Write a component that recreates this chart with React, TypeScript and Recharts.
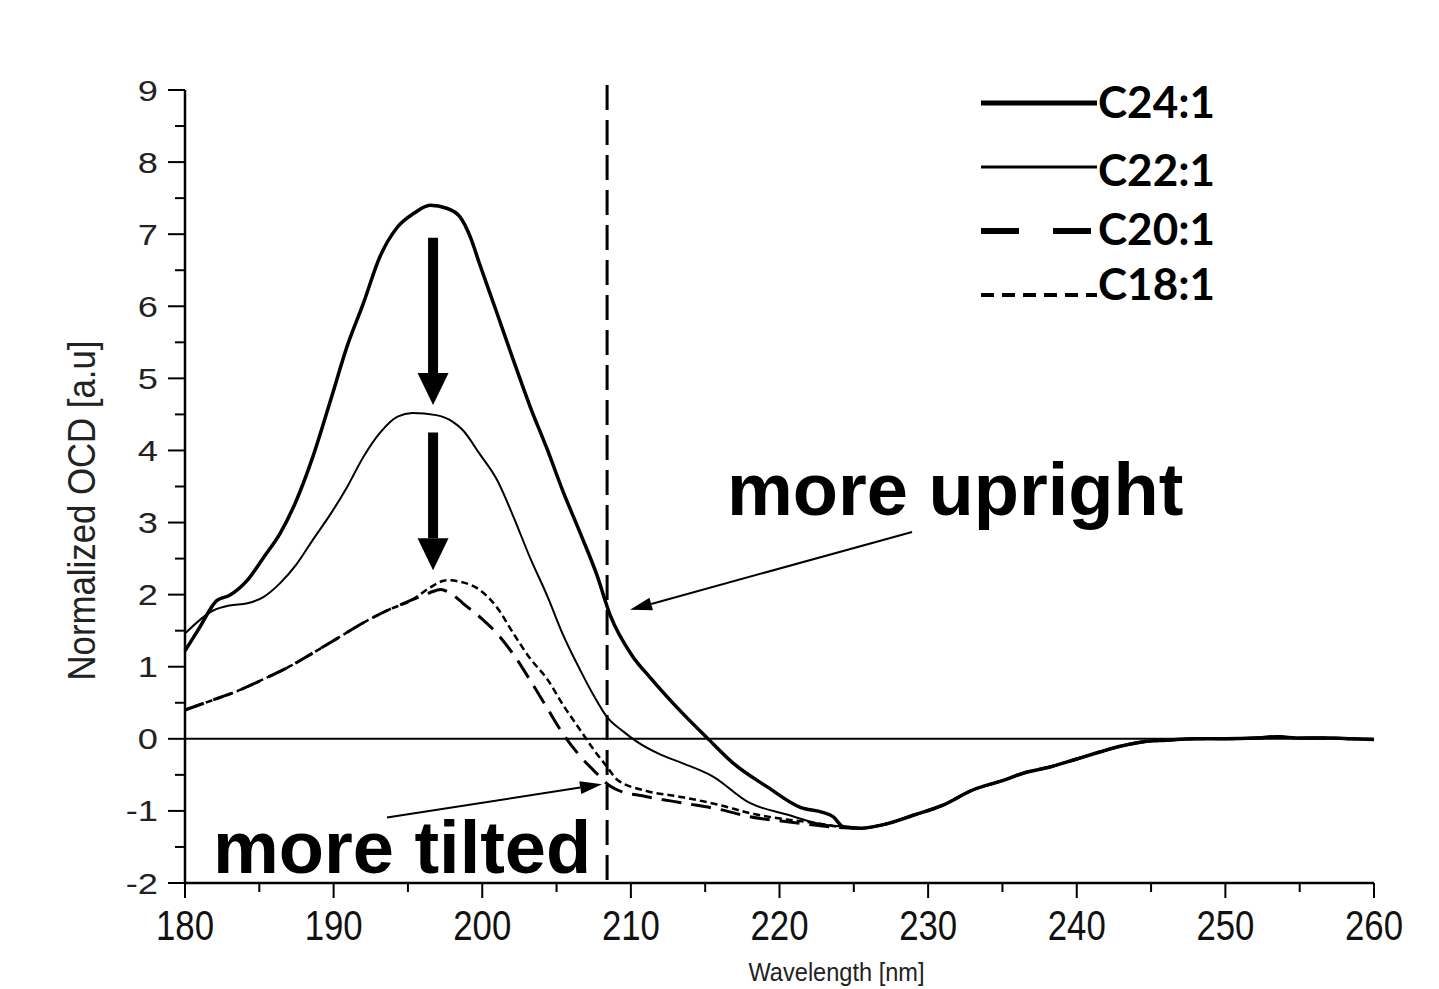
import { LineChart, Line, XAxis, YAxis, ReferenceLine, ReferenceDot, Legend } from 'recharts';

// wavelength [nm], normalized OCD [a.u]
const sharedTail: [number, number][] = [
  [225.5, -1.24], [227, -1.19], [229, -1.06], [231, -0.92], [233, -0.71], [235, -0.58],
  [236.5, -0.47], [238.2, -0.39], [240, -0.28], [241.6, -0.18], [243, -0.1], [244.5, -0.04],
  [246, -0.02], [248, 0], [250, 0], [252, 0.01], [253.5, 0.03], [255, 0.01], [257, 0.01],
  [258.5, 0], [260, -0.01],
];

const c24: [number, number][] = [
  [180, 1.22], [181, 1.55], [182.15, 1.92], [183, 1.99], [184.2, 2.2], [185.3, 2.52],
  [186.4, 2.85], [187.5, 3.31], [188.6, 3.91], [189.8, 4.7], [190.9, 5.44], [192, 6.04],
  [193.1, 6.68], [194.3, 7.1], [195.4, 7.29], [196.5, 7.4], [197.6, 7.36], [198.5, 7.24],
  [199.2, 6.96], [199.8, 6.6], [201, 5.9], [202.1, 5.25], [203.2, 4.62], [204.4, 4.0],
  [205.4, 3.45], [206.6, 2.85], [207.7, 2.28], [208.6, 1.72], [210.1, 1.15], [211.3, 0.85],
  [213.5, 0.35], [215.1, 0.02], [216.9, -0.34], [219.2, -0.67], [221.4, -0.95],
  [222.9, -1.02], [223.6, -1.08], [224.3, -1.22],
];

const c22: [number, number][] = [
  [180, 1.46], [181.9, 1.78], [183, 1.85], [184.2, 1.88], [185.3, 1.97], [186.4, 2.16],
  [187.5, 2.42], [188.6, 2.76], [189.8, 3.12], [190.9, 3.49], [192, 3.91], [193.1, 4.24],
  [194.3, 4.47], [195.3, 4.52], [196.9, 4.49], [198, 4.4], [198.7, 4.28], [199.8, 3.96],
  [201, 3.59], [202.1, 3.08], [203.2, 2.52], [204.4, 1.97], [205.4, 1.46], [206.6, 0.95],
  [207.5, 0.6], [208.4, 0.3], [209.5, 0.1], [210.4, -0.04], [212, -0.22], [213.5, -0.34],
  [215.5, -0.52], [218, -0.89], [220.5, -1.05], [222.5, -1.17], [224.3, -1.22],
];

const c20: [number, number][] = [
  [180, 0.4], [181.9, 0.54], [183.5, 0.66], [185.2, 0.82], [187, 1.0], [188.6, 1.19],
  [190.3, 1.4], [192, 1.61], [193.6, 1.78], [195.3, 1.93], [196.5, 2.03], [197.2, 2.07],
  [198, 2.0], [198.7, 1.88], [200, 1.66], [201, 1.46], [202.1, 1.17], [203.2, 0.82],
  [204.3, 0.45], [205.4, 0.08], [206.5, -0.22], [207.7, -0.48], [208.5, -0.64],
  [209.1, -0.71], [211, -0.8], [213.5, -0.89], [216, -0.98], [218, -1.08], [220.5, -1.15],
  [222.5, -1.2], [224, -1.23],
];

const c18: [number, number][] = [
  [180, 0.4], [181.9, 0.54], [183.5, 0.66], [185.2, 0.82], [187, 1.0], [188.6, 1.19],
  [190.3, 1.4], [192, 1.61], [193.6, 1.78], [195.3, 1.93], [196.5, 2.1], [197.6, 2.2],
  [198.7, 2.17], [199.8, 2.07], [201, 1.82], [202.1, 1.46], [203.2, 1.12], [204.4, 0.82],
  [205.5, 0.45], [206.6, 0.12], [207.5, -0.15], [208.4, -0.39], [209.1, -0.57],
  [211, -0.72], [213.5, -0.81], [216, -0.92], [218, -1.03], [220.5, -1.12],
  [222.5, -1.17], [224, -1.22],
];

const xTicks = [180, 185, 190, 195, 200, 205, 210, 215, 220, 225, 230, 235, 240, 245, 250, 255, 260];
const yTicks = [-2, -1.5, -1, -0.5, 0, 0.5, 1, 1.5, 2, 2.5, 3, 3.5, 4, 4.5, 5, 5.5, 6, 6.5, 7, 7.5, 8, 8.5, 9];

const cutoffWavelength = 208.4;

const toRows = (pts: [number, number][]) => pts.map(([w, v]) => ({ w, v }));

const series = [
  { name: 'C24:1', data: toRows([...c24, ...sharedTail]), width: 3.5, dash: undefined, legendWidth: 5, legendDash: undefined },
  { name: 'C22:1', data: toRows([...c22, ...sharedTail]), width: 2, dash: undefined, legendWidth: 3, legendDash: undefined },
  { name: 'C20:1', data: toRows([...c20, ...sharedTail]), width: 3, dash: '20 10', legendWidth: 6, legendDash: '38 34' },
  { name: 'C18:1', data: toRows([...c18, ...sharedTail]), width: 2.5, dash: '7 4', legendWidth: 4, legendDash: '13 8' },
];

const narrow = "'Liberation Sans', Arial, sans-serif";

function XTick({ x, y, payload }: any) {
  const major = payload.value % 10 === 0;
  return (
    <g>
      <line x1={x} x2={x} y1={y} y2={y + (major ? 15 : 9)} stroke="#000" strokeWidth={2} />
      {major && (
        <text
          x={x - 29}
          y={y + 57}
          textLength={58}
          lengthAdjust="spacingAndGlyphs"
          fontFamily={narrow}
          fontSize={42}
          fill="#111"
        >
          {payload.value}
        </text>
      )}
    </g>
  );
}

function YTick({ x, y, payload }: any) {
  const major = payload.value % 1 === 0;
  return (
    <g>
      <line x1={x - (major ? 17 : 10)} x2={x} y1={y} y2={y} stroke="#000" strokeWidth={2} />
      {major && (
        <text
          transform={`translate(${x - 27}, ${y + 10.5}) scale(1.25, 1)`}
          textAnchor="end"
          fontFamily={narrow}
          fontSize={29}
          fill="#222"
        >
          {payload.value}
        </text>
      )}
    </g>
  );
}

function arrowShape(thick: boolean) {
  return (p: any) => {
    const { x1, y1, x2, y2 } = p;
    const ang = Math.atan2(y2 - y1, x2 - x1);
    const len = thick ? 32 : 22;
    const half = thick ? 15.5 : 6.5;
    const bx = x2 - len * Math.cos(ang);
    const by = y2 - len * Math.sin(ang);
    const nx = -Math.sin(ang);
    const ny = Math.cos(ang);
    return (
      <g>
        <line x1={x1} y1={y1} x2={bx} y2={by} stroke="#000" strokeWidth={thick ? 10 : 2} />
        <polygon
          points={`${x2},${y2} ${bx + nx * half},${by + ny * half} ${bx - nx * half},${by - ny * half}`}
          fill="#000"
        />
      </g>
    );
  };
}

function noteText(label: string) {
  return (p: any) => (
    <text x={p.cx} y={p.cy} fontFamily="'Liberation Sans', Arial, sans-serif" fontWeight="bold" fontSize={74} fill="#000">
      {label}
    </text>
  );
}

function LegendBox() {
  const lineY = [33, 97, 161, 225];
  const textY = [48, 116, 175, 230];
  return (
    <svg width={270} height={250}>
      {series.map((s, i) => (
        <g key={s.name}>
          <line x1={6} x2={122} y1={lineY[i]} y2={lineY[i]} stroke="#000" strokeWidth={s.legendWidth} strokeDasharray={s.legendDash} />
          <text x={123} y={textY[i]} fontFamily="Lato, 'Open Sans', sans-serif" fontWeight={700} fontSize={44} fill="#000">
            {s.name}
          </text>
        </g>
      ))}
    </svg>
  );
}

export default function App() {
  return (
    <div style={{ position: 'absolute', left: 0, top: 0, background: '#fff' }}>
      <LineChart width={1439} height={989} margin={{ top: 90, right: 65, bottom: 0, left: 0 }}>
        <XAxis
          dataKey="w"
          type="number"
          domain={[180, 260]}
          ticks={xTicks}
          interval={0}
          height={106}
          tickSize={0}
          tickMargin={0}
          tickLine={false}
          tick={<XTick />}
          axisLine={{ stroke: '#000', strokeWidth: 2.5 }}
          label={{
            content: (p: any) => (
              <text
                x={p.viewBox.x + p.viewBox.width / 2 + 57 - 88}
                y={p.viewBox.y + 98}
                textLength={176}
                lengthAdjust="spacingAndGlyphs"
                fontFamily={narrow}
                fontSize={26}
                fill="#222"
              >
                Wavelength [nm]
              </text>
            ),
          }}
        />
        <YAxis
          type="number"
          domain={[-2, 9]}
          ticks={yTicks}
          interval={0}
          width={185}
          tickSize={0}
          tickMargin={0}
          tickLine={false}
          tick={<YTick />}
          axisLine={{ stroke: '#000', strokeWidth: 2.5 }}
          label={{
            content: (p: any) => {
              const cx = p.viewBox.x + 82;
              const cy = p.viewBox.y + p.viewBox.height / 2 + 24;
              return (
                <text
                  x={cx - 170}
                  y={cy}
                  transform={`rotate(-90 ${cx} ${cy})`}
                  dominantBaseline="central"
                  textLength={340}
                  lengthAdjust="spacingAndGlyphs"
                  fontFamily={narrow}
                  fontSize={38}
                  fill="#222"
                >
                  Normalized OCD [a.u]
                </text>
              );
            },
          }}
        />
        <ReferenceLine y={0} stroke="#000" strokeWidth={2} />
        <ReferenceLine
          segment={[{ x: cutoffWavelength, y: 9.07 }, { x: cutoffWavelength, y: -2 }]}
          ifOverflow="visible"
          stroke="#000"
          strokeWidth={3}
          strokeDasharray="25 10"
        />
        {series.map((s) => (
          <Line
            key={s.name}
            name={s.name}
            data={s.data}
            dataKey="v"
            type="monotone"
            stroke="#000"
            strokeWidth={s.width}
            strokeDasharray={s.dash}
            dot={false}
            activeDot={false}
            isAnimationActive={false}
          />
        ))}
        <ReferenceLine segment={[{ x: 196.69, y: 6.95 }, { x: 196.69, y: 4.63 }]} ifOverflow="visible" shape={arrowShape(true)} />
        <ReferenceLine segment={[{ x: 196.69, y: 4.25 }, { x: 196.69, y: 2.34 }]} ifOverflow="visible" shape={arrowShape(true)} />
        <ReferenceLine segment={[{ x: 228.92, y: 2.87 }, { x: 209.94, y: 1.79 }]} ifOverflow="visible" shape={arrowShape(false)} />
        <ReferenceLine segment={[{ x: 193.59, y: -1.09 }, { x: 208.06, y: -0.63 }]} ifOverflow="visible" shape={arrowShape(false)} />
        <ReferenceDot x={216.47} y={3.1} r={0} ifOverflow="visible" shape={noteText('more upright')} />
        <ReferenceDot x={181.88} y={-1.86} r={0} ifOverflow="visible" shape={noteText('more tilted')} />
        <Legend
          layout="vertical"
          align="center"
          verticalAlign="middle"
          wrapperStyle={{ left: 975, top: 70, width: 270, height: 250 }}
          content={() => <LegendBox />}
        />
      </LineChart>
    </div>
  );
}
